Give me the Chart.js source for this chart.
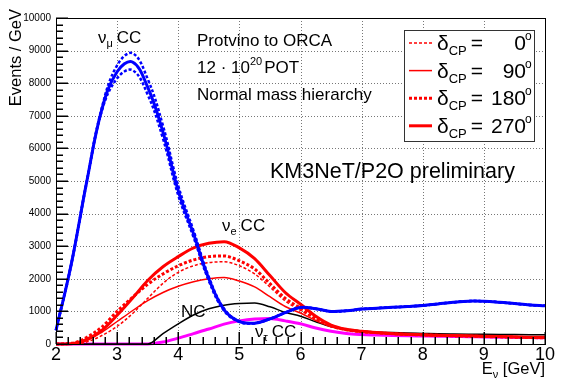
<!DOCTYPE html>
<html>
<head>
<meta charset="utf-8">
<script src="https://cdn.jsdelivr.net/npm/chart.js@4.4.0/dist/chart.umd.min.js"></script>
<style>
  body { margin: 0; background: #fff; }
  canvas { display: block; }
</style>
</head>
<body>
<canvas id="c" width="562" height="382"></canvas>
<script>
// energies (GeV)
var energies = [2, 2.25, 2.5, 2.75, 3, 3.25, 3.5, 3.75, 4, 4.25, 4.5, 4.75, 5, 5.25, 5.5, 5.75,
  6, 6.25, 6.5, 6.75, 7, 7.25, 7.5, 7.75, 8, 8.25, 8.5, 8.75, 9, 9.25, 9.5, 9.75, 10];

// nu_mu CC (three visible variants)
var numuUp = [420, 2450, 4950, 7250, 8550, 8920, 8130, 6700, 4850, 3480, 2060, 1080, 700, 640, 770, 960,
  1120, 1080, 1000, 1020, 1070, 1100, 1125, 1150, 1180, 1230, 1280, 1315, 1310, 1280, 1240, 1200, 1170];
var numuMid = [420, 2450, 4950, 7200, 8350, 8650, 7880, 6500, 4700, 3380, 2000, 1050, 690, 640, 770, 960,
  1120, 1080, 1000, 1020, 1070, 1100, 1125, 1150, 1180, 1230, 1280, 1315, 1310, 1280, 1240, 1200, 1170];
var numuLow = [420, 2450, 4950, 7150, 8150, 8400, 7650, 6300, 4560, 3280, 1940, 1020, 680, 640, 770, 960,
  1120, 1080, 1000, 1020, 1070, 1100, 1125, 1150, 1180, 1230, 1280, 1315, 1310, 1280, 1240, 1200, 1170];

// nu_e CC for each delta_CP
var nue0 = [0, 0, 60, 260, 540, 930, 1400, 1860, 2200, 2400, 2500, 2520, 2400, 2150, 1750, 1320,
  1030, 760, 540, 430, 370, 335, 305, 285, 270, 255, 245, 235, 225, 215, 205, 195, 185];
var nue90 = [0, 0, 100, 360, 690, 1020, 1330, 1580, 1770, 1910, 2000, 2040, 1930, 1750, 1450, 1150,
  950, 720, 530, 420, 360, 330, 300, 280, 265, 250, 240, 230, 220, 210, 200, 190, 180];
var nue180 = [0, 20, 200, 520, 1000, 1430, 1830, 2150, 2400, 2580, 2680, 2700, 2550, 2300, 1850, 1400,
  1100, 800, 560, 440, 380, 345, 315, 295, 280, 265, 250, 240, 230, 220, 210, 200, 190];
var nue270 = [0, 10, 140, 420, 880, 1400, 1950, 2370, 2680, 2950, 3090, 3140, 2950, 2620, 2100, 1580,
  1220, 850, 580, 450, 390, 350, 320, 300, 285, 270, 260, 250, 240, 230, 220, 210, 205];

// NC and nu_tau CC
var nc = [0, 0, 0, 0, 0, 0, 0, 320, 620, 890, 1080, 1190, 1240, 1255, 1140, 970,
  850, 680, 530, 450, 400, 370, 350, 335, 325, 315, 308, 302, 298, 294, 290, 287, 285];
var nutau = [0, 0, 0, 0, 0, 0, 0, 60, 180, 320, 460, 610, 710, 770, 785, 710,
  620, 490, 390, 320, 290, 275, 262, 252, 245, 238, 230, 223, 215, 208, 202, 196, 190];

var xTicks = [2, 3, 4, 5, 6, 7, 8, 9, 10];
var yTicks = [0, 1000, 2000, 3000, 4000, 5000, 6000, 7000, 8000, 9000, 10000];
var legendLabels = ['0', '90', '180', '270'];

var FONT = '"Liberation Sans", Arial, sans-serif';
var BLUE = '#0000ff', RED = '#ff0000', MAG = '#ff00ff';

function pts(arr) {
  return arr.map(function (v, i) { return { x: energies[i], y: v }; });
}

function line(arr, color, width, dash, smooth) {
  return {
    data: pts(arr),
    borderColor: color,
    borderWidth: width,
    borderDash: dash || [],
    pointRadius: 0,
    fill: false,
    clip: 4,
    tension: smooth ? 0.4 : 0,
    cubicInterpolationMode: smooth ? 'default' : 'monotone'
  };
}

// draw text made of pieces (normal/sub/superscript)
function rich(c, x, y, parts) {
  parts.forEach(function (p) {
    c.font = (p.size || 17) + 'px ' + FONT;
    c.fillText(p.t, x, y + (p.dy || 0));
    x += c.measureText(p.t).width + (p.gap || 0);
  });
}

var frame = {
  id: 'frame',
  beforeDatasetsDraw: function (chart) {
    var c = chart.ctx, a = chart.chartArea, xs = chart.scales.x, ys = chart.scales.y;
    c.save();
    c.strokeStyle = '#777';
    c.lineWidth = 1;
    c.setLineDash([1, 2]);
    xTicks.forEach(function (t) {
      if (t == 2 || t == 10) return;
      var px = Math.round(xs.getPixelForValue(t)) + 0.5;
      c.beginPath(); c.moveTo(px, a.top); c.lineTo(px, a.bottom); c.stroke();
    });
    yTicks.forEach(function (t) {
      if (t == 0 || t == 10000) return;
      var py = Math.round(ys.getPixelForValue(t)) + 0.5;
      c.beginPath(); c.moveTo(a.left, py); c.lineTo(a.right, py); c.stroke();
    });
    c.restore();
  },
  afterDatasetsDraw: function (chart) {
    var c = chart.ctx, a = chart.chartArea;
    c.save();
    c.setLineDash([]);
    // frame
    c.strokeStyle = '#000';
    c.lineWidth = 1;
    c.strokeRect(Math.round(a.left) + 0.5, Math.round(a.top) + 0.5,
      Math.round(a.right - a.left), Math.round(a.bottom - a.top));

    c.fillStyle = '#000';
    c.textBaseline = 'alphabetic';
    c.textAlign = 'left';
    // curve labels
    rich(c, 98, 43, [{ t: 'ν', size: 17 }, { t: 'μ', size: 11, dy: 4, gap: 4 }, { t: 'CC', size: 17 }]);
    rich(c, 222, 231, [{ t: 'ν', size: 17 }, { t: 'e', size: 11, dy: 4, gap: 4 }, { t: 'CC', size: 17 }]);
    rich(c, 181, 317, [{ t: 'NC', size: 17 }]);
    rich(c, 255, 337, [{ t: 'ν', size: 17 }, { t: 'τ', size: 11, dy: 4, gap: 4 }, { t: 'CC', size: 17 }]);
    // info text
    rich(c, 197, 46, [{ t: 'Protvino to ORCA', size: 17 }]);
    rich(c, 197, 73, [{ t: '12 · 10', size: 17 }, { t: '20', size: 11, dy: -8, gap: 2 }, { t: 'POT', size: 17 }]);
    rich(c, 197, 100, [{ t: 'Normal mass hierarchy', size: 17 }]);
    rich(c, 270, 178, [{ t: 'KM3NeT/P2O preliminary', size: 21.5 }]);

    // legend
    c.fillStyle = '#fff';
    c.fillRect(404.5, 30.5, 130, 111);
    c.strokeStyle = '#333';
    c.lineWidth = 1;
    c.strokeRect(404.5, 30.5, 130, 111);
    var styles = [[1.5, [3, 2]], [1.5, []], [3, [3, 2]], [3, []]];
    legendLabels.forEach(function (lab, i) {
      var by = 50 + i * 27.6;
      c.strokeStyle = RED;
      c.lineWidth = styles[i][0];
      c.setLineDash(styles[i][1]);
      c.beginPath(); c.moveTo(409, by - 7); c.lineTo(432, by - 7); c.stroke();
      c.setLineDash([]);
      c.fillStyle = '#000';
      c.textAlign = 'left';
      rich(c, 437, by, [{ t: 'δ', size: 21 }, { t: 'CP', size: 13, dy: 5, gap: 4 }, { t: '=', size: 21 }]);
      c.textAlign = 'right';
      c.font = '21px ' + FONT;
      c.fillText(lab, 526, by);
      c.textAlign = 'left';
      c.font = '12px ' + FONT;
      c.fillText('o', 525, by - 10);
    });

    // axis titles
    c.fillStyle = '#000';
    c.save();
    c.translate(21, 9);
    c.rotate(-Math.PI / 2);
    c.textAlign = 'right';
    c.font = '16.5px ' + FONT;
    c.fillText('Events / GeV', 0, 0);
    c.restore();
    c.textAlign = 'left';
    c.font = '16.5px ' + FONT;
    var w1 = c.measureText('E').width;
    c.font = '11px ' + FONT;
    var w2 = c.measureText('ν').width;
    c.font = '16.5px ' + FONT;
    var w3 = c.measureText(' [GeV]').width;
    rich(c, 545 - w1 - w2 - w3, 374, [{ t: 'E', size: 16.5 }, { t: 'ν', size: 11, dy: 4 }, { t: ' [GeV]', size: 16.5 }]);
    c.restore();
  },
  afterDraw: function (chart) {
    // ticks inside the frame, drawn last
    var c = chart.ctx, a = chart.chartArea, xs = chart.scales.x, ys = chart.scales.y;
    var L = Math.round(a.left), B = Math.round(a.bottom);
    c.save();
    c.fillStyle = '#000';
    for (var k = 0; k <= 50; k++) {
      var py = Math.round(ys.getPixelForValue(k * 200));
      var len = k % 5 == 0 ? 12 : 7;
      c.fillRect(L, py - 0.5, len, 1.5);
    }
    for (var j = 0; j <= 40; j++) {
      var px = Math.round(xs.getPixelForValue(2 + j * 0.2));
      var tl = j % 5 == 0 ? 12 : 7;
      c.fillRect(px - 0.5, B - tl, 1.5, tl);
    }
    c.restore();
  }
};

new Chart(document.getElementById('c'), {
  type: 'line',
  data: {
    datasets: [
      line(numuUp, BLUE, 2.5, [3, 2], true),
      line(numuMid, BLUE, 3, [], true),
      line(numuLow, BLUE, 2.5, [3, 2], true),
      line(nue0, RED, 1.5, [3, 2], false),
      line(nue90, RED, 1.5, [], false),
      line(nue180, RED, 3, [3, 2], false),
      line(nue270, RED, 3, [], false),
      line(nc, '#000', 1.5, [], false),
      line(nutau, MAG, 3, [], false)
    ]
  },
  options: {
    responsive: false,
    animation: false,
    devicePixelRatio: 1,
    layout: { padding: { top: 18, right: 17, left: 0, bottom: 0 } },
    plugins: { legend: { display: false }, tooltip: { enabled: false } },
    scales: {
      x: {
        type: 'linear', min: 2, max: 10,
        grid: { display: false, drawTicks: false, tickLength: 0 }, border: { display: false },
        ticks: { stepSize: 1, color: '#000', font: { family: FONT, size: 18 }, padding: 0, maxRotation: 0 },
        afterFit: function (s) { s.height = 38; }
      },
      y: {
        min: 0, max: 10000,
        grid: { display: false, drawTicks: false, tickLength: 0 }, border: { display: false },
        ticks: {
          stepSize: 1000, color: '#000', font: { family: FONT, size: 10 }, padding: 5,
          callback: function (v) { return String(v); }
        },
        afterFit: function (s) { s.width = 56; }
      }
    }
  },
  plugins: [frame]
});
</script>
</body>
</html>
